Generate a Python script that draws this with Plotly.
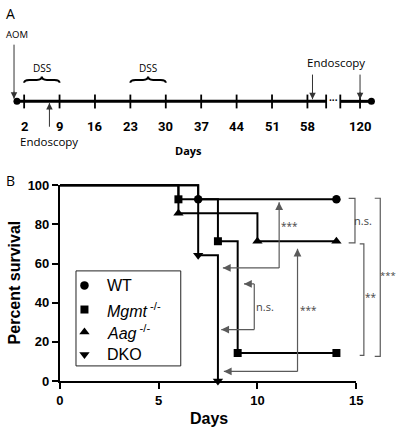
import plotly.graph_objects as go

W, H = 405, 436

# ---------------- Panel B data (Kaplan-Meier survival) ----------------
wt_days = [0, 7, 14]
wt_surv = [100, 92.86, 92.86]
mgmt_days = [0, 6, 8, 9, 14]
mgmt_surv = [100, 92.86, 71.43, 14.29, 14.29]
aag_days = [0, 6, 10, 14]
aag_surv = [100, 85.71, 71.43, 71.43]
dko_days = [0, 7, 8]
dko_surv = [100, 64.29, 0]
series_names = ["WT", "<i>Mgmt</i><sup> -/-</sup>", "<i>Aag</i><sup> -/-</sup>", "DKO"]
series_symbols = ["circle", "square", "triangle-up", "triangle-down"]
series_sizes = [8.5, 8, 9, 9]
x_ticks_b = [0, 5, 10, 15]
y_ticks_b = [0, 20, 40, 60, 80, 100]

# ---------------- Panel A data (timeline) ----------------
timeline_days = [2, 9, 16, 23, 30, 37, 44, 51, 58, 120]
dss_periods = [(2, 9), (23, 30)]
endoscopy_days = [7, 59, 120]
aom_day = 0
BREAK_SHIFT = 51.6  # days after the axis break are shifted left by this


def tpos(day):
    return day if day <= 62 else day - BREAK_SHIFT


# ---------------- geometry helpers ----------------
def pxx(px):
    return px / W


def pyy(py):
    return 1 - py / H


B_X0, B_PPD = 57.5, 20.3      # pixel of day 0, pixels per day
B_Y0, B_PPP = 387.3, 2.026    # pixel of 0 %, pixels per percent
A_X0, A_PPD = 10.3, 5.2       # panel A: pixel of day 0, pixels per day


def bx(px):
    return (px - B_X0) / B_PPD


def by(py):
    return (B_Y0 - py) / B_PPP


fig = go.Figure()

# ---------------- Panel B curves ----------------
curves = [(wt_days, wt_surv), (mgmt_days, mgmt_surv), (aag_days, aag_surv), (dko_days, dko_surv)]
for (d, s) in curves:
    fig.add_trace(go.Scatter(x=d, y=s, mode="lines", line=dict(color="black", width=2, shape="hv"),
                             xaxis="x2", yaxis="y2", showlegend=False, hoverinfo="skip"))
for (d, s), sym, sz in zip(curves, series_symbols, series_sizes):
    fig.add_trace(go.Scatter(x=d[1:], y=s[1:], mode="markers",
                             marker=dict(symbol=sym, size=sz, color="black"),
                             xaxis="x2", yaxis="y2", showlegend=False, cliponaxis=False))

# dummy trace for visible axes
fig.add_trace(go.Scatter(x=[0], y=[0], mode="markers", marker=dict(opacity=0), showlegend=False,
                         hoverinfo="skip"))

shapes = []
annotations = []
GRAY = "#5a5a5a"
TFONT = "Open Sans, DejaVu Sans, sans-serif"
BFONT = "Liberation Sans, Arial, sans-serif"
NFONT = "Liberation Sans Narrow, Arial Narrow, Roboto, sans-serif"


def ptext(px, py, t, font, **kw):
    annotations.append(dict(x=pxx(px), y=pyy(py), xref="paper", yref="paper", text=t, showarrow=False,
                            xanchor=kw.pop("xanchor", "center"), yanchor="middle", font=font, **kw))


# ---------------- manual legend ----------------
LEG_BOX = (74, 273.3, 181.7, 371.7)
LEG_ROWS = [288.3, 313.3, 336.7, 360.0]
LEG_SYM_X, LEG_TXT_X = 82.7, 104
shapes.append(dict(type="rect", xref="paper", yref="paper", x0=pxx(LEG_BOX[0]), x1=pxx(LEG_BOX[2]),
                   y0=pyy(LEG_BOX[3]), y1=pyy(LEG_BOX[1]), line=dict(color="#222", width=1),
                   fillcolor="white", layer="below"))
for name, sym, sz, row in zip(series_names, series_symbols, series_sizes, LEG_ROWS):
    fig.add_trace(go.Scatter(x=[bx(LEG_SYM_X)], y=[by(row)], mode="markers",
                             marker=dict(symbol=sym, size=sz, color="black"),
                             xaxis="x2", yaxis="y2", showlegend=False, hoverinfo="skip", cliponaxis=False))
    ptext(LEG_TXT_X, row, name, dict(family=BFONT, size=16, color="black"), xanchor="left")


def gline(p0, p1, ref=("x2", "y2"), color=GRAY, width=1.2):
    shapes.append(dict(type="line", x0=p0[0], y0=p0[1], x1=p1[0], y1=p1[1], xref=ref[0], yref=ref[1],
                       line=dict(color=color, width=width)))


PX_PER_UNIT = {"x2": B_PPD, "y2": B_PPP, "x3": A_PPD, "y3": 1.0}


def arrow(tip, tail, ref, color, width, size):
    # line drawn as a shape, the arrowhead as a short annotation arrow at the tip
    gline(tail, tip, ref=ref, color=color, width=width)
    dxp = (tail[0] - tip[0]) * PX_PER_UNIT[ref[0]]
    dyp = (tail[1] - tip[1]) * PX_PER_UNIT[ref[1]]
    ln = (dxp ** 2 + dyp ** 2) ** 0.5
    f = min(1.0, 9.0 / ln)
    near = (tip[0] + (tail[0] - tip[0]) * f, tip[1] + (tail[1] - tip[1]) * f)
    annotations.append(dict(x=tip[0], y=tip[1], ax=near[0], ay=near[1], xref=ref[0], yref=ref[1],
                            axref=ref[0], ayref=ref[1], text="", showarrow=True, arrowhead=2,
                            arrowsize=size, arrowwidth=width, arrowcolor=color, standoff=0))


def garrow(tip, tail):
    arrow(tip, tail, ("x2", "y2"), GRAY, 1.2, 1.3)


def gtext(x, y, t, size=10, color="#444", ref=("x2", "y2"), family=TFONT, **kw):
    annotations.append(dict(x=x, y=y, text=t, xref=ref[0], yref=ref[1], showarrow=False,
                            font=dict(family=family, size=size, color=color), **kw))


# WT vs DKO ***
garrow((11.1, 91.4), (11.1, 57.8))
garrow((8.25, 57.8), (11.1, 57.8))
gtext(11.6, 79.1, "***")
# Mgmt vs DKO n.s.
garrow((9.32, 49.6), (9.84, 49.6))
gline((9.84, 49.6), (9.84, 26.3))
garrow((8.17, 26.3), (9.84, 26.3))
gtext(10.4, 38.1, "n.s.", size=11)
# Aag vs DKO ***
garrow((12.03, 67.6), (12.03, 4.9))
garrow((8.3, 4.9), (12.03, 4.9))
gtext(12.57, 36.1, "***")

# right brackets
for (x0, x1, y0, y1) in [(14.62, 14.94, 93.3, 70.6), (15.18, 15.39, 70.1, 13.1), (15.94, 16.22, 93.4, 12.6)]:
    shapes.append(dict(type="path", path=f"M {x0},{y0} L {x1},{y0} L {x1},{y1} L {x0},{y1}",
                       xref="x2", yref="y2", line=dict(color=GRAY, width=1.2)))
gtext(15.33, 82.1, "n.s.", size=11)
gtext(15.77, 43.0, "**")
gtext(16.62, 53.7, "***", size=9.5)

# Panel titles
ptext(11, 285.5, "<b>Percent survival</b>", dict(family=BFONT, size=16, color="black"), textangle=-90)
ptext(211, 426, "<b>Days</b>", dict(family=BFONT, size=16, color="black"))
ptext(6.5, 179.5, "B", dict(family=TFONT, size=14, color="black"))
ptext(6.7, 6.5, "A", dict(family=TFONT, size=14, color="black"))

# ---------------- Panel A timeline ----------------
TL_Y = 97.7
TICK_TOP, TICK_BOT = 90.7, 105
start_pos, end_pos = 0.58, 70.65
brk_l, brk_r = 61.7, 64.5
A_REF = ("x3", "y3")
gline((start_pos, TL_Y), (brk_l, TL_Y), ref=A_REF, color="black", width=3)
gline((brk_r, TL_Y), (end_pos, TL_Y), ref=A_REF, color="black", width=3)
for p in [tpos(d) for d in timeline_days] + [brk_l, brk_r]:
    gline((p, TICK_TOP), (p, TICK_BOT), ref=A_REF, color="black", width=1.8)
fig.add_trace(go.Scatter(x=[start_pos, end_pos], y=[TL_Y, TL_Y], mode="markers",
                         marker=dict(size=7, color="black"), xaxis="x3", yaxis="y3",
                         showlegend=False, hoverinfo="skip", cliponaxis=False))
gtext((brk_l + brk_r) / 2, TL_Y - 1.5, "<b>···</b>", size=10, color="black", ref=A_REF)

for d in timeline_days:
    gtext(tpos(d), 123.3, f"<b>{d}</b>", size=13, color="black", ref=A_REF, family=NFONT)
gtext(34.4, 148.3, "<b>Days</b>", size=11, color="black", ref=A_REF)

# DSS braces
for (a, b) in dss_periods:
    m = (a + b) / 2
    e = 1.0
    path = (f"M {a},78.5 Q {a},75.5 {a+e},75.5 L {m-e},75.5 Q {m},75.5 {m},72 "
            f"Q {m},75.5 {m+e},75.5 L {b-e},75.5 Q {b},75.5 {b},78.5")
    shapes.append(dict(type="path", path=path, xref="x3", yref="y3", line=dict(color="black", width=2)))
    gtext(m, 62.7, "DSS", size=10, color="black", ref=A_REF)


def karrow(tip, tail):
    arrow(tip, tail, A_REF, "#333", 1, 1.3)


# AOM
karrow((tpos(aom_day), 95), (tpos(aom_day), 39))
gtext(tpos(aom_day) + 0.5, 28, "AOM", size=9.5, color="black", ref=A_REF)
# Endoscopy
karrow((tpos(endoscopy_days[0]), 99.5), (tpos(endoscopy_days[0]), 124))
gtext(tpos(endoscopy_days[0]), 139.3, "Endoscopy", size=11.5, color="black", ref=A_REF)
for d in endoscopy_days[1:]:
    karrow((tpos(d), 95.5), (tpos(d), 70))
gtext((tpos(endoscopy_days[1]) + tpos(endoscopy_days[2])) / 2, 57.3, "Endoscopy", size=11.5,
      color="black", ref=A_REF)

axis_vis = dict(showline=True, linewidth=2, linecolor="black", ticks="outside", ticklen=6, tickwidth=2,
                tickcolor="black", showgrid=False, zeroline=False,
                tickfont=dict(family=BFONT, size=13, color="black", weight="bold"))

fig.update_layout(
    width=W, height=H, margin=dict(l=0, r=0, t=0, b=0),
    paper_bgcolor="white", plot_bgcolor="rgba(0,0,0,0)",
    xaxis=dict(domain=[pxx(B_X0), pxx(B_X0 + 15 * B_PPD)], range=[0, 15], tickvals=x_ticks_b,
               anchor="y", **axis_vis),
    yaxis=dict(domain=[pyy(B_Y0), pyy(B_Y0 - 100 * B_PPP)], range=[0, 100], tickvals=y_ticks_b,
               anchor="x", **axis_vis),
    xaxis2=dict(domain=[pxx(B_X0), pxx(B_X0 + 17 * B_PPD)], range=[0, 17], visible=False, anchor="y2"),
    yaxis2=dict(domain=[pyy(B_Y0 + 3 * B_PPP), pyy(B_Y0 - 103 * B_PPP)], range=[-3, 103], visible=False,
                anchor="x2"),
    xaxis3=dict(domain=[0, 1], range=[-A_X0 / A_PPD, (W - A_X0) / A_PPD], visible=False, anchor="y3"),
    yaxis3=dict(domain=[pyy(172), 1], range=[172, 0], visible=False, anchor="x3"),
    showlegend=False,
    shapes=shapes, annotations=annotations,
)

fig.write_html("out.html", config={"displayModeBar": False},
               post_script="document.body.style.margin='0px';")
